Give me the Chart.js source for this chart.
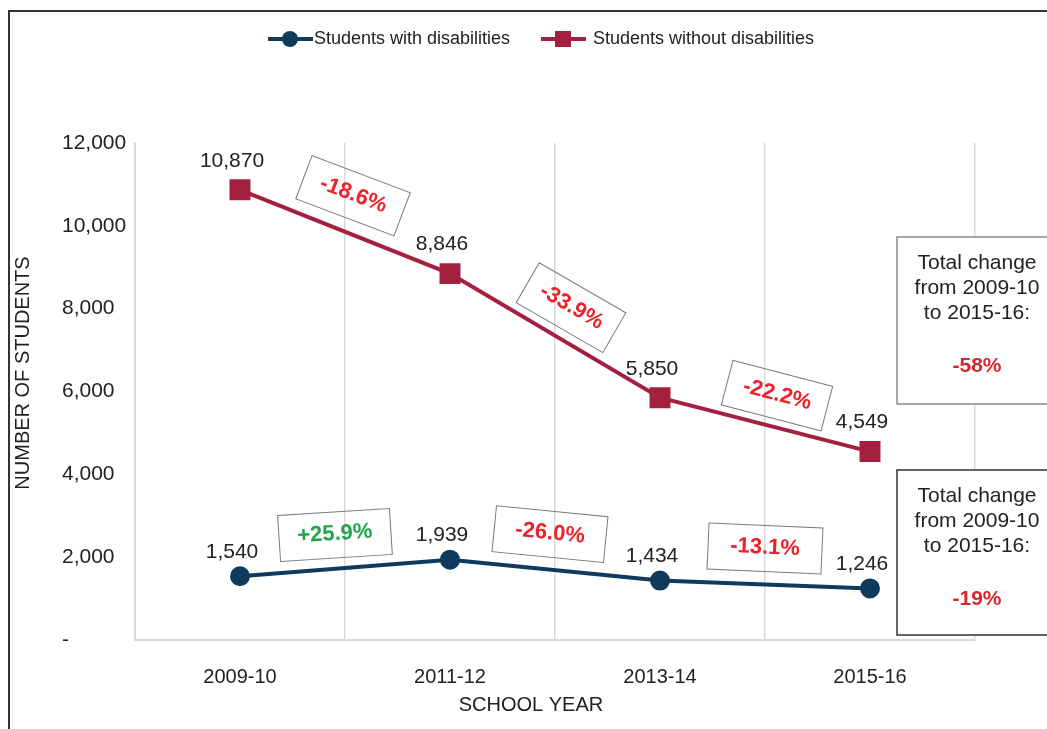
<!DOCTYPE html>
<html>
<head>
<meta charset="utf-8">
<script src="https://cdn.jsdelivr.net/npm/chart.js@4.4.1/dist/chart.umd.min.js"></script>
<style>
  html, body { margin: 0; padding: 0; background: #fff; }
  #wrap { width: 1047px; height: 729px; position: relative; }
</style>
</head>
<body>
<div id="wrap"><canvas id="chart" width="1047" height="729"></canvas></div>
<script>
// data
const schoolYears = ['2009-10', '2011-12', '2013-14', '2015-16'];
const withDisabilities = [1540, 1939, 1434, 1246];
const withoutDisabilities = [10870, 8846, 5850, 4549];
const yTicks = [0, 2000, 4000, 6000, 8000, 10000, 12000];

const NAVY = '#0f3a5c';
const MAROON = '#a3213f';
const FONT = "'Liberation Sans', Arial, sans-serif";

// where the tilted change boxes sit relative to each segment midpoint
const boxLayout = {
  0: [ {dx: -10, dy: -33, rot: -3.6, w: 112}, {dx: -5, dy: -36, rot: 5.6, w: 112}, {dx: 0, dy: -36, rot: 2.5, w: 114} ],
  1: [ {dx: 8, dy: -36, rot: 20.7, w: 105}, {dx: 16, dy: -28, rot: 30, w: 100}, {dx: 12, dy: -29, rot: 14.6, w: 103} ]
};

function pctChange(a, b) {
  const v = (b / a - 1) * 100;
  return (v > 0 ? '+' : '') + v.toFixed(1) + '%';
}

const annotations = {
  id: 'annotations',
  afterDatasetsDraw(chart) {
    const ctx = chart.ctx;
    const area = chart.chartArea;

    ctx.save();
    // value labels
    ctx.font = '21px ' + FONT;
    ctx.fillStyle = '#222';
    ctx.textAlign = 'center';
    ctx.textBaseline = 'middle';
    chart.data.datasets.forEach((ds, di) => {
      const meta = chart.getDatasetMeta(di);
      meta.data.forEach((pt, i) => {
        const dy = di === 1 ? -29 : -24;
        ctx.fillText(ds.data[i].toLocaleString('en-US'), pt.x - 8, pt.y + dy);
      });
    });

    // tilted change boxes
    chart.data.datasets.forEach((ds, di) => {
      const meta = chart.getDatasetMeta(di);
      for (let i = 0; i < ds.data.length - 1; i++) {
        const a = meta.data[i], b = meta.data[i + 1];
        const lay = boxLayout[di][i];
        const cx = (a.x + b.x) / 2 + lay.dx;
        const cy = (a.y + b.y) / 2 + lay.dy;
        const label = pctChange(ds.data[i], ds.data[i + 1]);
        ctx.save();
        ctx.translate(cx, cy);
        ctx.rotate(lay.rot * Math.PI / 180);
        ctx.strokeStyle = '#7a7a7a';
        ctx.lineWidth = 1;
        ctx.strokeRect(-lay.w / 2, -23, lay.w, 46);
        ctx.font = 'bold 22px ' + FONT;
        ctx.fillStyle = label[0] === '+' ? '#1fa64a' : '#ee2128';
        ctx.textAlign = 'center';
        ctx.textBaseline = 'middle';
        ctx.fillText(label, 0, -1);
        ctx.restore();
      }
    });

    // total change boxes on the right
    const totals = [
      {data: withoutDisabilities, top: 237, bottom: 404, border: '#8a8a8a'},
      {data: withDisabilities, top: 470, bottom: 635, border: '#333'}
    ];
    totals.forEach(t => {
      const left = area.right - 78;
      ctx.fillStyle = '#fff';
      ctx.fillRect(left, t.top, 200, t.bottom - t.top);
      ctx.strokeStyle = t.border;
      ctx.lineWidth = 1.5;
      ctx.strokeRect(left, t.top, 200, t.bottom - t.top);
      const cx = left + 80;
      ctx.font = '21px ' + FONT;
      ctx.fillStyle = '#222';
      ctx.textAlign = 'center';
      ctx.textBaseline = 'middle';
      ctx.fillText('Total change', cx, t.top + 26);
      ctx.fillText('from ' + schoolYears[0], cx, t.top + 51);
      ctx.fillText('to ' + schoolYears[schoolYears.length - 1] + ':', cx, t.top + 76);
      const tot = (t.data[t.data.length - 1] / t.data[0] - 1) * 100;
      ctx.font = 'bold 21px ' + FONT;
      ctx.fillStyle = '#d9262e';
      ctx.fillText(tot.toFixed(0) + '%', cx, t.top + 129);
    });

    // legend
    ctx.lineWidth = 4;
    ctx.strokeStyle = NAVY;
    ctx.beginPath(); ctx.moveTo(268, 39); ctx.lineTo(313, 39); ctx.stroke();
    ctx.fillStyle = NAVY;
    ctx.beginPath(); ctx.arc(290, 39, 8, 0, Math.PI * 2); ctx.fill();
    ctx.strokeStyle = MAROON;
    ctx.beginPath(); ctx.moveTo(541, 39); ctx.lineTo(586, 39); ctx.stroke();
    ctx.fillStyle = MAROON;
    ctx.fillRect(555, 31, 16, 16);
    ctx.font = '18px ' + FONT;
    ctx.fillStyle = '#222';
    ctx.textAlign = 'left';
    ctx.fillText(chart.data.datasets[0].label, 314, 39);
    ctx.fillText(chart.data.datasets[1].label, 593, 39);

    // axis titles
    ctx.font = '20px ' + FONT;
    ctx.textAlign = 'center';
    ctx.fillText('SCHOOL YEAR', 531, 705);
    ctx.save();
    ctx.translate(23, 373);
    ctx.rotate(-Math.PI / 2);
    ctx.fillText('NUMBER OF STUDENTS', 0, 0);
    ctx.restore();

    // outer frame
    ctx.strokeStyle = '#333';
    ctx.lineWidth = 2;
    ctx.beginPath();
    ctx.moveTo(9, 729); ctx.lineTo(9, 11); ctx.lineTo(1047, 11);
    ctx.stroke();
    ctx.restore();
  }
};

new Chart(document.getElementById('chart'), {
  type: 'line',
  data: {
    labels: schoolYears,
    datasets: [
      {
        label: 'Students with disabilities',
        data: withDisabilities,
        borderColor: NAVY,
        backgroundColor: NAVY,
        borderWidth: 4,
        pointStyle: 'circle',
        pointRadius: 8,
        pointHoverRadius: 8,
        tension: 0
      },
      {
        label: 'Students without disabilities',
        data: withoutDisabilities,
        borderColor: MAROON,
        backgroundColor: MAROON,
        borderWidth: 4,
        pointStyle: 'rect',
        pointRadius: 12,
        pointHoverRadius: 12,
        tension: 0
      }
    ]
  },
  options: {
    responsive: false,
    animation: false,
    devicePixelRatio: 1,
    layout: { padding: { top: 143, right: 72, left: 62, bottom: 0 } },
    plugins: {
      legend: { display: false },
      tooltip: { enabled: false }
    },
    scales: {
      x: {
        offset: true,
        grid: { offset: true, color: '#d9d9d9', lineWidth: 1.5, drawTicks: false },
        border: { color: '#d9d9d9', width: 2 },
        ticks: { font: { family: FONT, size: 20 }, color: '#222', padding: 25 },
        afterFit(scale) { scale.height = 89; }
      },
      y: {
        min: 0,
        max: 12000,
        afterBuildTicks(scale) { scale.ticks = yTicks.map(v => ({ value: v })); },
        grid: { display: false, drawTicks: false },
        border: { color: '#d9d9d9', width: 2 },
        ticks: {
          font: { family: FONT, size: 21 }, color: '#222', padding: 8,
          crossAlign: 'far',
          callback: v => v === 0 ? '-' : v.toLocaleString('en-US')
        },
        afterFit(scale) { scale.width = 73; }
      }
    }
  },
  plugins: [annotations]
});
</script>
</body>
</html>
